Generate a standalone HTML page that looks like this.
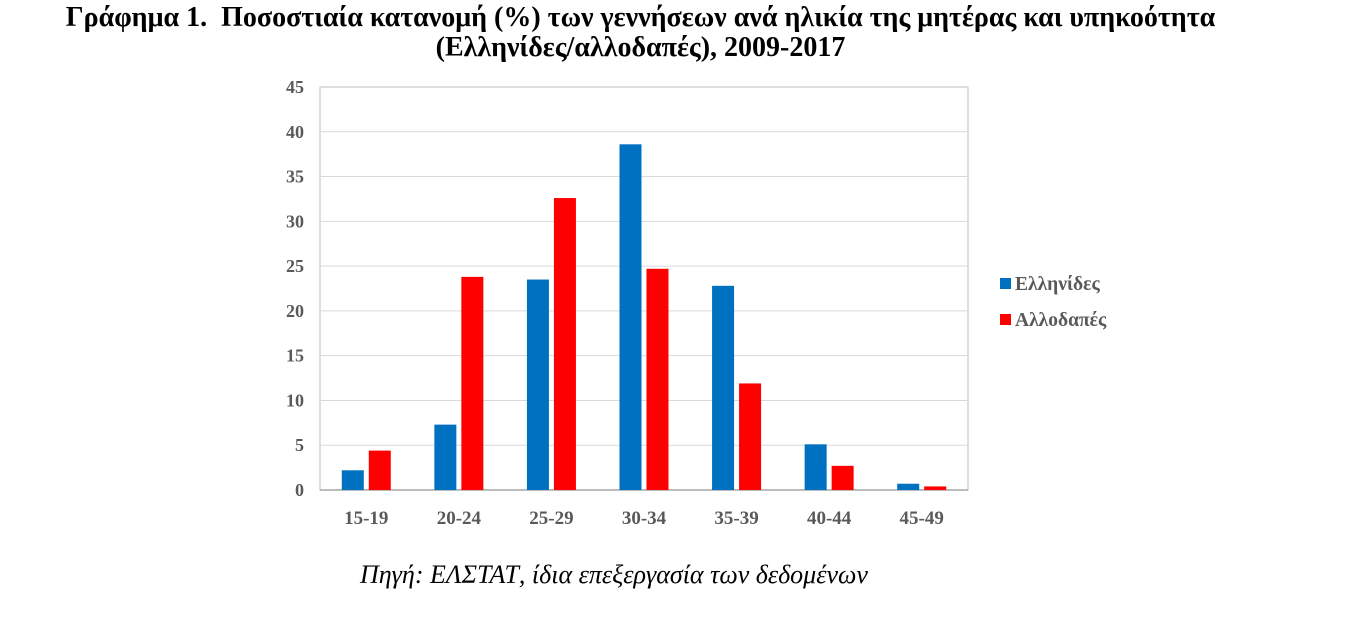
<!DOCTYPE html>
<html><head><meta charset="utf-8"><style>
body{margin:0;background:#fff;width:1361px;height:620px;overflow:hidden;font-family:"Liberation Serif",serif;}
.title{position:absolute;left:0;width:1361px;text-align:center;font-weight:bold;font-size:28px;color:#000;line-height:30px;top:3px;}
.src{position:absolute;left:360px;top:560px;font-style:italic;font-size:26px;color:#000;}
</style></head><body>
<div class="title" style="left:-40px">Γράφημα 1.&nbsp; Ποσοστιαία κατανομή (%) των γεννήσεων ανά ηλικία της μητέρας και υπηκοότητα<br>(Ελληνίδες/αλλοδαπές), 2009-2017</div>
<svg id="chart" width="1361" height="620" style="position:absolute;left:0;top:0" xmlns="http://www.w3.org/2000/svg"></svg>
<div class="src">Πηγή: ΕΛΣΤΑΤ, ίδια επεξεργασία των δεδομένων</div>
<script>
const categories=["15-19","20-24","25-29","30-34","35-39","40-44","45-49"];
const greek=[2.2,7.3,23.5,38.6,22.8,5.1,0.7];
const foreign=[4.4,23.8,32.6,24.7,11.9,2.7,0.4];
const yTicks=[0,5,10,15,20,25,30,35,40,45];
const seriesNames=["Ελληνίδες","Αλλοδαπές"];
const svg=document.getElementById('chart');
const NS="http://www.w3.org/2000/svg";
const L=320,R=968,T=87,B=490,yMax=45;
const y=v=>B-(v/yMax)*(B-T);
const bw=(R-L)/categories.length;
const x=i=>L+i*bw;
function mk(t,a){const e=document.createElementNS(NS,t);for(const k in a)e.setAttribute(k,a[k]);svg.appendChild(e);return e;}
let r=mk('rect',{x:L,y:T,width:R-L,height:B-T,fill:'none',stroke:'#bfbfbf','stroke-width':1});


yTicks.forEach(t=>{
  if(t>0&&t<yMax){const g=mk('line',{x1:L,x2:R,y1:y(t),y2:y(t),stroke:'#d9d9d9','stroke-width':1});
  
  }
  const tx=mk('text',{x:304,y:y(t)+6,'text-anchor':'end','font-size':18,'font-weight':'bold',fill:'#595959','font-family':'Liberation Serif, serif'});
  tx.textContent=t;
  
  
});
const ax=mk('line',{x1:L,x2:R,y1:B,y2:B,stroke:'#a6a6a6','stroke-width':1.5});


const barW=22,gap=5;
categories.forEach((c,i)=>{
  const cx=x(i)+bw/2;
  const b1=mk('rect',{x:cx-gap/2-barW,y:y(greek[i]),width:barW,height:B-y(greek[i]),fill:'#0070c0'});
  
  
  const b2=mk('rect',{x:cx+gap/2,y:y(foreign[i]),width:barW,height:B-y(foreign[i]),fill:'#ff0000'});
  
  
  const tx=mk('text',{x:cx,y:524,'text-anchor':'middle','font-size':19,'font-weight':'bold',fill:'#595959','font-family':'Liberation Serif, serif'});
  tx.textContent=c;
  
  
});
const cols=['#0070c0','#ff0000'];
seriesNames.forEach((n,i)=>{
  const yy=278+i*36;
  const s=mk('rect',{x:1000,y:yy,width:11,height:11,fill:cols[i]});
  
  
  const t=mk('text',{x:1015,y:yy+12,'font-size':19.5,'font-weight':'bold',fill:'#595959','font-family':'Liberation Serif, serif'});
  t.textContent=n;
  
  
});
</script>
</body></html>
